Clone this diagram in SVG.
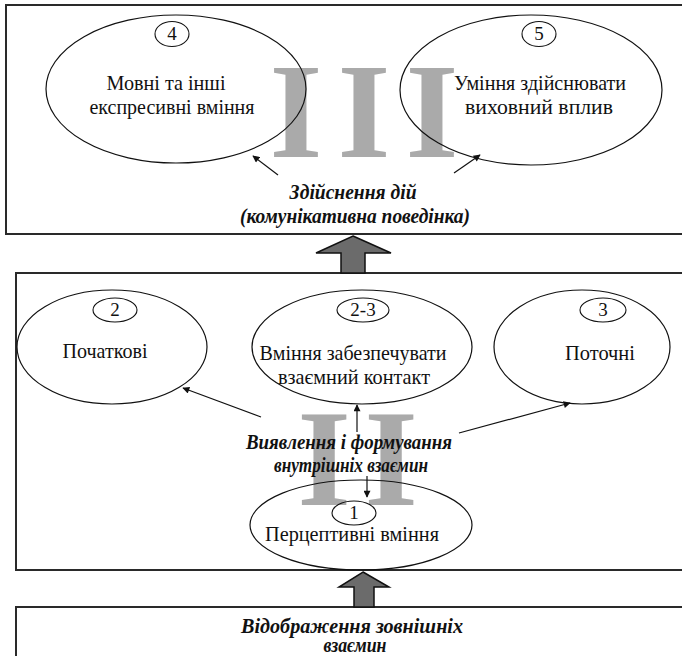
<svg xmlns="http://www.w3.org/2000/svg" width="682" height="656" viewBox="0 0 682 656">
<style>
.box{fill:none;stroke:#2a2a2a;stroke-width:2}
.ell{fill:none;stroke:#111;stroke-width:1.2}
.num{fill:none;stroke:#111;stroke-width:1.1}
.wm{font-family:"Liberation Serif",serif;font-weight:bold;fill:#aaaaaa;text-anchor:middle}
.t{font-family:"Liberation Serif",serif;font-size:21px;fill:#111;text-anchor:middle}
.n{font-family:"Liberation Serif",serif;font-size:19px;fill:#111;text-anchor:middle}
.it{font-family:"Liberation Serif",serif;font-size:21px;font-weight:bold;font-style:italic;fill:#111;text-anchor:middle}
.ln{fill:none;stroke:#111;stroke-width:1.2}
.blk{fill:#6b6b6b;stroke:#111;stroke-width:1.5;stroke-linejoin:miter}
</style>
<defs>
<marker id="ah" viewBox="0 0 10 10" refX="9" refY="5" markerWidth="8" markerHeight="7" markerUnits="userSpaceOnUse" orient="auto">
<path d="M0,0 L10,5 L0,10 Z" fill="#111"/>
</marker>
</defs>
<rect width="682" height="656" fill="#fff"/>

<!-- watermarks -->
<g id="wm3">
<text class="wm" font-size="136" x="296" y="157">I</text>
<text class="wm" font-size="136" x="364" y="157">I</text>
<text class="wm" font-size="136" x="432" y="157">I</text>
</g>
<g id="wm2">
<text class="wm" font-size="138" x="324" y="505">I</text>
<text class="wm" font-size="138" x="391" y="505">I</text>
</g>

<!-- level boxes -->
<g id="level3"><rect class="box" x="6" y="5" width="700" height="229"/></g>
<g id="level2"><rect class="box" x="16" y="273" width="700" height="297"/></g>
<g id="level1"><rect class="box" x="16" y="607" width="700" height="60"/>
<text class="it" x="352" y="633" textLength="222" lengthAdjust="spacingAndGlyphs">Відображення зовнішніх</text>
<text class="it" x="355" y="652" textLength="63" lengthAdjust="spacingAndGlyphs">взаємин</text>
</g>

<g id="node4">
<ellipse class="ell" cx="176" cy="89" rx="130" ry="74"/>
<ellipse class="num" cx="172" cy="34" rx="17" ry="12.5"/>
<text class="n" x="172" y="40">4</text>
<text class="t" x="166" y="90" textLength="119" lengthAdjust="spacingAndGlyphs">Мовні та інші</text>
<text class="t" x="172" y="114" textLength="165" lengthAdjust="spacingAndGlyphs">експресивні вміння</text>
</g>
<g id="node5">
<ellipse class="ell" cx="531" cy="90" rx="131" ry="75"/>
<ellipse class="num" cx="539" cy="34" rx="17" ry="12.5"/>
<text class="n" x="539" y="40">5</text>
<text class="t" x="540" y="90" textLength="172" lengthAdjust="spacingAndGlyphs">Уміння здійснювати</text>
<text class="t" x="539" y="114" textLength="148" lengthAdjust="spacingAndGlyphs">виховний вплив</text>
</g>
<g id="action">
<text class="it" x="353" y="199" textLength="127" lengthAdjust="spacingAndGlyphs">Здійснення дій</text>
<text class="it" x="355" y="223" textLength="230" lengthAdjust="spacingAndGlyphs">(комунікативна поведінка)</text>
</g>

<g id="node2">
<ellipse class="ell" cx="112" cy="347" rx="95" ry="57"/>
<ellipse class="num" cx="115" cy="310" rx="22" ry="12"/>
<text class="n" x="115" y="316">2</text>
<text class="t" x="105" y="358" textLength="85" lengthAdjust="spacingAndGlyphs">Початкові</text>
</g>
<g id="node23">
<ellipse class="ell" cx="362" cy="347" rx="110" ry="57"/>
<ellipse class="num" cx="363" cy="310" rx="26" ry="12"/>
<text class="n" x="363" y="316">2-3</text>
<text class="t" x="353" y="360" textLength="187" lengthAdjust="spacingAndGlyphs">Вміння забезпечувати</text>
<text class="t" x="354" y="384" textLength="152" lengthAdjust="spacingAndGlyphs">взаємний контакт</text>
</g>
<g id="node3">
<ellipse class="ell" cx="582" cy="347" rx="88" ry="57"/>
<ellipse class="num" cx="603" cy="310" rx="23" ry="12"/>
<text class="n" x="603" y="316">3</text>
<text class="t" x="600" y="360" textLength="70" lengthAdjust="spacingAndGlyphs">Поточні</text>
</g>
<g id="formation">
<text class="it" x="349" y="449" textLength="206" lengthAdjust="spacingAndGlyphs">Виявлення і формування</text>
<text class="it" x="351" y="472" textLength="154" lengthAdjust="spacingAndGlyphs">внутрішніх взаємин</text>
</g>
<g id="node1">
<ellipse class="ell" cx="361" cy="525" rx="111" ry="45"/>
<ellipse class="num" cx="354" cy="513" rx="22" ry="12"/>
<text class="n" x="354" y="519">1</text>
<text class="t" x="352" y="541" textLength="174" lengthAdjust="spacingAndGlyphs">Перцептивні вміння</text>
</g>

<g id="connectors">
<line class="ln" x1="278" y1="175" x2="253" y2="156" marker-end="url(#ah)"/>
<line class="ln" x1="454" y1="173" x2="480" y2="155" marker-end="url(#ah)"/>
<line class="ln" x1="261" y1="417" x2="183" y2="388" marker-end="url(#ah)"/>
<line class="ln" x1="357" y1="432" x2="357" y2="405" marker-end="url(#ah)"/>
<line class="ln" x1="459" y1="433" x2="570" y2="403" marker-end="url(#ah)"/>
<line class="ln" x1="367" y1="476" x2="367" y2="497" marker-end="url(#ah)"/>
<path class="blk" d="M353,236 L391,253 L365,253 L365,273 L341,273 L341,253 L316,253 Z"/>
<path class="blk" d="M363,572 L389,587 L374,587 L374,607 L354,607 L354,587 L339,587 Z"/>
</g>
</svg>
